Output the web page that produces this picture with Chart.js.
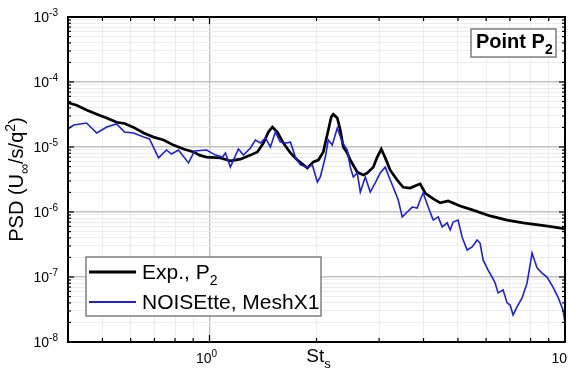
<!DOCTYPE html>
<html>
<head>
<meta charset="utf-8">
<title>PSD at point P2</title>
<script src="https://cdn.jsdelivr.net/npm/chart.js@4.4.1/dist/chart.umd.min.js"></script>
<style>
  html, body { margin: 0; padding: 0; background: #fff; }
  canvas { display: block; }
</style>
</head>
<body>
<canvas id="psdChart" width="568" height="371"></canvas>
<script>
// Values (Strouhal number St_s vs PSD)
const expSt = [0.40, 0.423, 0.451, 0.482, 0.514, 0.548, 0.577, 0.612, 0.653, 0.696, 0.743, 0.792, 0.845, 0.902, 0.937, 0.981,
  1.074, 1.145, 1.222, 1.304, 1.364, 1.418, 1.465, 1.503, 1.552, 1.614, 1.689, 1.767, 1.837, 1.885, 1.960, 2.024, 2.090,
  2.159, 2.201, 2.230, 2.288, 2.333, 2.379, 2.441, 2.489, 2.605, 2.708, 2.779, 2.888, 2.964, 3.042, 3.122, 3.224, 3.374,
  3.507, 3.670, 3.839, 3.914, 4.043, 4.231, 4.456, 4.693, 5.071, 5.516, 6.156, 6.873, 7.622, 8.508, 9.253, 10.0];
const expPsd = [4.8e-5, 4.4e-5, 3.7e-5, 3.2e-5, 2.8e-5, 2.4e-5, 2.3e-5, 2.0e-5, 1.64e-5, 1.42e-5, 1.28e-5, 1.07e-5, 9.3e-6, 8.4e-6, 7.5e-6, 7.0e-6,
  6.8e-6, 6.1e-6, 6.5e-6, 7.5e-6, 8.4e-6, 1.15e-5, 1.7e-5, 2.03e-5, 1.7e-5, 1.15e-5, 8.1e-6, 6.3e-6, 5.3e-6, 4.75e-6, 5.9e-6, 6.3e-6, 8.4e-6,
  1.83e-5, 2.9e-5, 3.2e-5, 2.8e-5, 1.83e-5, 1.0e-5, 8.1e-6, 6.3e-6, 4.1e-6, 3.7e-6, 4.0e-6, 4.9e-6, 7.0e-6, 9.3e-6, 6.8e-6, 4.4e-6, 3.1e-6,
  2.4e-6, 2.34e-6, 2.6e-6, 2.7e-6, 1.96e-6, 1.64e-6, 1.38e-6, 1.48e-6, 1.24e-6, 1.07e-6, 8.7e-7, 7.5e-7, 6.8e-7, 6.3e-7, 5.9e-7, 5.5e-7];

const lesSt = [0.40, 0.415, 0.451, 0.482, 0.514, 0.548, 0.577, 0.612, 0.653, 0.678, 0.719, 0.757, 0.782, 0.818, 0.873, 0.908,
  0.981, 1.04, 1.088, 1.109, 1.145, 1.206, 1.246, 1.304, 1.346, 1.391, 1.437, 1.484, 1.532, 1.582, 1.656, 1.689, 1.744,
  1.802, 1.885, 1.947, 2.011, 2.05, 2.118, 2.159, 2.215, 2.288, 2.364, 2.441, 2.489, 2.538, 2.605, 2.656, 2.743, 2.833,
  2.926, 3.022, 3.122, 3.224, 3.287, 3.396, 3.485, 3.599, 3.718, 3.839, 3.914, 3.991, 4.123, 4.259, 4.399, 4.514, 4.662,
  4.753, 4.846, 5.005, 5.137, 5.306, 5.481, 5.66, 5.771, 5.884, 6.077, 6.236, 6.359, 6.484, 6.697, 6.873, 7.008, 7.145,
  7.333, 7.574, 7.822, 8.079, 8.344, 8.619, 8.900, 9.253, 9.557, 9.872, 10.0];
const lesPsd = [1.89e-5, 2.18e-5, 2.34e-5, 1.64e-5, 2.03e-5, 2.26e-5, 1.7e-5, 1.64e-5, 1.42e-5, 1.33e-5, 6.8e-6, 9.0e-6, 7.8e-6, 9.0e-6, 5.7e-6, 8.7e-6,
  9.0e-6, 7.5e-6, 7.0e-6, 8.1e-6, 4.9e-6, 9.3e-6, 7.5e-6, 9.65e-6, 1.28e-5, 1.15e-5, 1.38e-5, 1.0e-5, 1.7e-5, 1.19e-5, 1.15e-5, 1.19e-5, 7.0e-6,
  5.3e-6, 4.9e-6, 5.3e-6, 2.9e-6, 3.46e-6, 7.0e-6, 1.28e-5, 1.07e-5, 1.96e-5, 1.19e-5, 9.0e-6, 4.9e-6, 3.46e-6, 4.0e-6, 2.03e-6, 3.46e-6, 2.03e-6,
  2.8e-6, 4.0e-6, 4.9e-6, 3.1e-6, 2.4e-6, 1.53e-6, 8.4e-7, 1.0e-6, 1.19e-6, 1.15e-6, 1.53e-6, 1.96e-6, 1.19e-6, 7.5e-7, 8.4e-7, 5.9e-7, 6.8e-7,
  5.3e-7, 7.0e-7, 7.5e-7, 4.1e-7, 2.6e-7, 2.9e-7, 3.7e-7, 3.3e-7, 1.83e-7, 1.28e-7, 1.0e-7, 8.1e-8, 5.7e-8, 6.3e-8, 4.0e-8, 3.7e-8, 2.6e-8,
  3.5e-8, 4.75e-8, 8.1e-8, 2.34e-7, 1.38e-7, 1.15e-7, 1.0e-7, 7.0e-8, 4.9e-8, 3.1e-8, 2.0e-8];

// axes
const xRange = [0.4, 10];
const yRange = [1e-8, 1e-3];
const xDecades = [-1, 0, 1];
const yDecades = [-8, -7, -6, -5, -4, -3];
const xLabelled = [0, 1];
const mantissas = [1, 2, 3, 4, 5, 6, 7, 8, 9];

const FONT = '"Liberation Sans", Arial, Helvetica, sans-serif';

function toPoints(xs, ys) {
    return xs.map((x, i) => ({ x: x, y: ys[i] }));
}

function logTicks(decades, min, max) {
    const ticks = [];
    decades.forEach(e => {
        mantissas.forEach(m => {
            const v = m * Math.pow(10, e);
            if (v >= min * 0.999 && v <= max * 1.001) ticks.push({ value: v, major: m === 1 });
        });
    });
    return ticks;
}

// draws text made of [string, shift] parts, shift: 1 = superscript, -1 = subscript
function richText(ctx, parts, x, y, size, weight, align) {
    const small = Math.round(size * 0.68);
    const fontFor = s => `${weight} ${s ? small : size}px ${FONT}`;
    let total = 0;
    parts.forEach(([t, s]) => { ctx.font = fontFor(s); total += ctx.measureText(t).width; });
    let cx = align === 'center' ? x - total / 2 : align === 'right' ? x - total : x;
    ctx.textAlign = 'left';
    ctx.textBaseline = 'alphabetic';
    parts.forEach(([t, s]) => {
        ctx.font = fontFor(s);
        const dy = s > 0 ? -size * 0.42 : s < 0 ? size * 0.3 : 0;
        ctx.fillText(t, cx, y + dy);
        cx += ctx.measureText(t).width;
    });
}

function seg(ctx, x1, y1, x2, y2) {
    ctx.beginPath();
    ctx.moveTo(x1, y1);
    ctx.lineTo(x2, y2);
    ctx.stroke();
}

const framePlugin = {
    id: 'frame',
    afterDatasetsDraw(chart) {
        const { ctx, chartArea: a, scales: { x, y } } = chart;
        ctx.save();
        ctx.fillStyle = '#000';
        ctx.strokeStyle = '#000';

        // inward ticks on all four sides
        ctx.lineWidth = 1.2;
        x.ticks.forEach(t => {
            const px = x.getPixelForValue(t.value);
            const len = t.major ? 7 : 4;
            seg(ctx, px, a.bottom, px, a.bottom - len);
            seg(ctx, px, a.top, px, a.top + len);
        });
        y.ticks.forEach(t => {
            const py = y.getPixelForValue(t.value);
            const len = t.major ? 6 : 3;
            seg(ctx, a.left, py, a.left + len, py);
            seg(ctx, a.right, py, a.right - len, py);
        });

        // frame
        ctx.lineWidth = 2;
        ctx.strokeRect(a.left, a.top, a.right - a.left, a.bottom - a.top);

        // tick labels
        yDecades.forEach(e => {
            const py = y.getPixelForValue(Math.pow(10, e));
            richText(ctx, [['10', 0], [String(e), 1]], a.left - 10, py + 5, 14, 'normal', 'right');
        });
        xLabelled.forEach(e => {
            const px = x.getPixelForValue(Math.pow(10, e));
            richText(ctx, [['10', 0], [String(e), 1]], px - 3, a.bottom + 21, 14, 'normal', 'center');
        });

        // axis titles
        richText(ctx, [['St', 0], ['s', -1]], (a.left + a.right) / 2 + 2, a.bottom + 20, 19, 'normal', 'center');
        ctx.save();
        ctx.translate(16, (a.top + a.bottom) / 2);
        ctx.rotate(-Math.PI / 2);
        richText(ctx, [['PSD (U', 0], ['\u221E', -1], ['/s/q', 0], ['2', 1], [')', 0]], 0, 7, 20, 'normal', 'center');
        ctx.restore();

        // legend box
        const ds = chart.data.datasets;
        ctx.fillStyle = '#fff';
        ctx.fillRect(86, 257, 235, 59);
        ctx.strokeStyle = '#7f7f7f';
        ctx.lineWidth = 1.5;
        ctx.strokeRect(86, 257, 235, 59);
        ds.forEach((d, i) => {
            const ly = 272 + i * 30;
            ctx.strokeStyle = d.borderColor;
            ctx.lineWidth = d.borderWidth + 0.5;
            seg(ctx, 89, ly, 136, ly);
            ctx.fillStyle = '#000';
            richText(ctx, d.legendParts, 142, ly + 7, 21, 'normal', 'left');
        });

        // point label
        ctx.fillStyle = '#fff';
        ctx.fillRect(471, 29, 85, 28);
        ctx.strokeStyle = '#7f7f7f';
        ctx.lineWidth = 1.5;
        ctx.strokeRect(471, 29, 85, 28);
        ctx.fillStyle = '#000';
        richText(ctx, [['Point P', 0], ['2', -1]], 476, 48, 20, 'bold', 'left');

        ctx.restore();
    }
};

const gridOpts = {
    drawTicks: false,
    color: c => (c.tick && c.tick.major ? '#c2c2c2' : '#ededed'),
    lineWidth: c => (c.tick && c.tick.major ? 1.4 : 1)
};

new Chart(document.getElementById('psdChart'), {
    type: 'line',
    data: {
        datasets: [{
            label: 'Exp., P2',
            legendParts: [['Exp., P', 0], ['2', -1]],
            data: toPoints(expSt, expPsd),
            borderColor: '#000000',
            borderWidth: 2.7,
            pointRadius: 0,
            tension: 0,
            order: 2
        }, {
            label: 'NOISEtte, MeshX1',
            legendParts: [['NOISEtte, MeshX1', 0]],
            data: toPoints(lesSt, lesPsd),
            borderColor: '#1e1ee6',
            borderWidth: 1.6,
            pointRadius: 0,
            tension: 0,
            order: 1
        }]
    },
    options: {
        responsive: false,
        devicePixelRatio: 1,
        animation: false,
        layout: { padding: { top: 17, right: 3, left: 0, bottom: 0 } },
        plugins: { legend: { display: false }, tooltip: { enabled: false } },
        scales: {
            x: {
                type: 'logarithmic',
                min: xRange[0],
                max: xRange[1],
                ticks: { display: false },
                border: { display: false },
                grid: gridOpts,
                afterBuildTicks: s => { s.ticks = logTicks(xDecades, xRange[0], xRange[1]); },
                afterFit: s => { s.height = 29; }
            },
            y: {
                type: 'logarithmic',
                min: yRange[0],
                max: yRange[1],
                ticks: { display: false },
                border: { display: false },
                grid: gridOpts,
                afterBuildTicks: s => { s.ticks = logTicks(yDecades, yRange[0], yRange[1]); },
                afterFit: s => { s.width = 68; }
            }
        }
    },
    plugins: [framePlugin]
});
</script>
</body>
</html>
